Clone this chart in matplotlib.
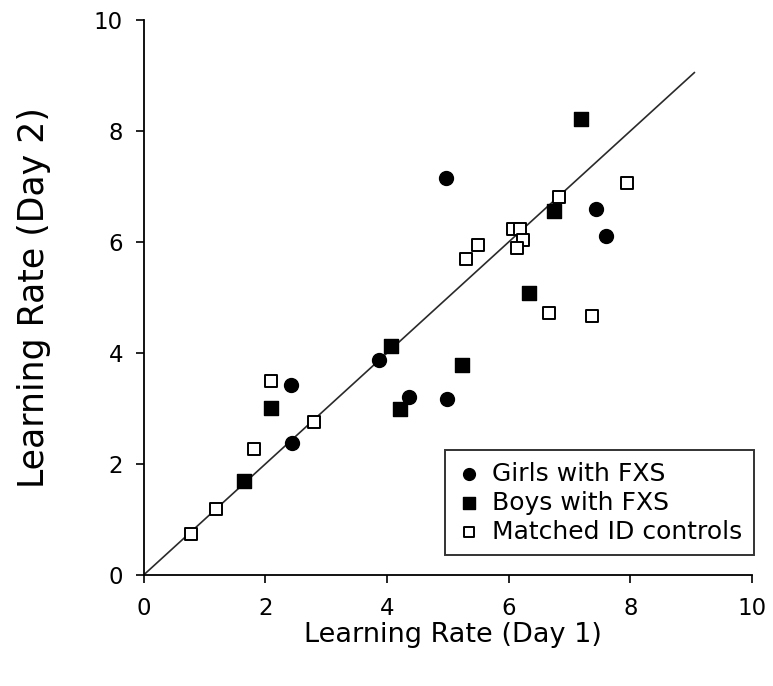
import numpy as np
import matplotlib.pyplot as plt

# data (Day 1 vs Day 2 learning rate)
girls_day1 = [4.97, 7.44, 7.59, 3.86, 2.42, 2.44, 4.36, 4.99]
girls_day2 = [7.16, 6.59, 6.11, 3.87, 3.42, 2.38, 3.21, 3.17]

boys_day1 = [7.19, 6.75, 6.34, 4.06, 2.09, 1.64, 4.21, 5.23]
boys_day2 = [8.22, 6.55, 5.08, 4.13, 3.00, 1.69, 2.98, 3.78]

ctrl_day1 = [0.77, 1.19, 1.81, 2.09, 2.79, 5.29, 5.49, 6.07, 6.19, 6.23, 6.13, 6.83, 7.94, 6.66, 7.36]
ctrl_day2 = [0.73, 1.19, 2.26, 3.50, 2.75, 5.69, 5.94, 6.23, 6.23, 6.03, 5.89, 6.81, 7.06, 4.71, 4.67]

identity_end = 9.05

fig = plt.figure(figsize=(7.73, 6.86), dpi=100)
ax = fig.add_axes([0.186, 0.162, 0.787, 0.809])

# line of identity
ax.plot([0, identity_end], [0, identity_end], color='#2a2a2a', linewidth=1.2, zorder=1)

ax.scatter(girls_day1, girls_day2, marker='o', s=100, color='black',
           label='Girls with FXS', zorder=3)
ax.scatter(boys_day1, boys_day2, marker='s', s=95, color='black',
           label='Boys with FXS', zorder=3)
ax.scatter(ctrl_day1, ctrl_day2, marker='s', s=80, facecolor='white',
           edgecolor='black', linewidth=1.4, label='Matched ID controls', zorder=2)

ax.set_xlim(0, 10)
ax.set_ylim(0, 10)
ax.set_xticks(np.arange(0, 11, 2))
ax.set_yticks(np.arange(0, 11, 2))

for side in ['top', 'right']:
    ax.spines[side].set_visible(False)
for side in ['left', 'bottom']:
    ax.spines[side].set_linewidth(1.3)
ax.tick_params(direction='out', length=6, width=1.2, labelsize=16.5)
ax.tick_params(axis='x', pad=10)
ax.tick_params(axis='y', pad=9)

ax.set_xlabel('Learning Rate (Day 1)', fontsize=19.5)
ax.set_ylabel('Learning Rate (Day 2)', fontsize=25)
ax.xaxis.set_label_coords(0.508, -0.085)
ax.yaxis.set_label_coords(-0.153, 0.5)

leg = ax.legend(loc='lower right', bbox_to_anchor=(1.003, 0.036), fontsize=18,
                frameon=True, fancybox=False, edgecolor='black',
                handletextpad=0.45, handlelength=1.0, borderpad=0.45,
                labelspacing=0.2, markerscale=0.85, borderaxespad=0)
leg.get_frame().set_linewidth(1.4)

fig.savefig('out.png', dpi=100)
